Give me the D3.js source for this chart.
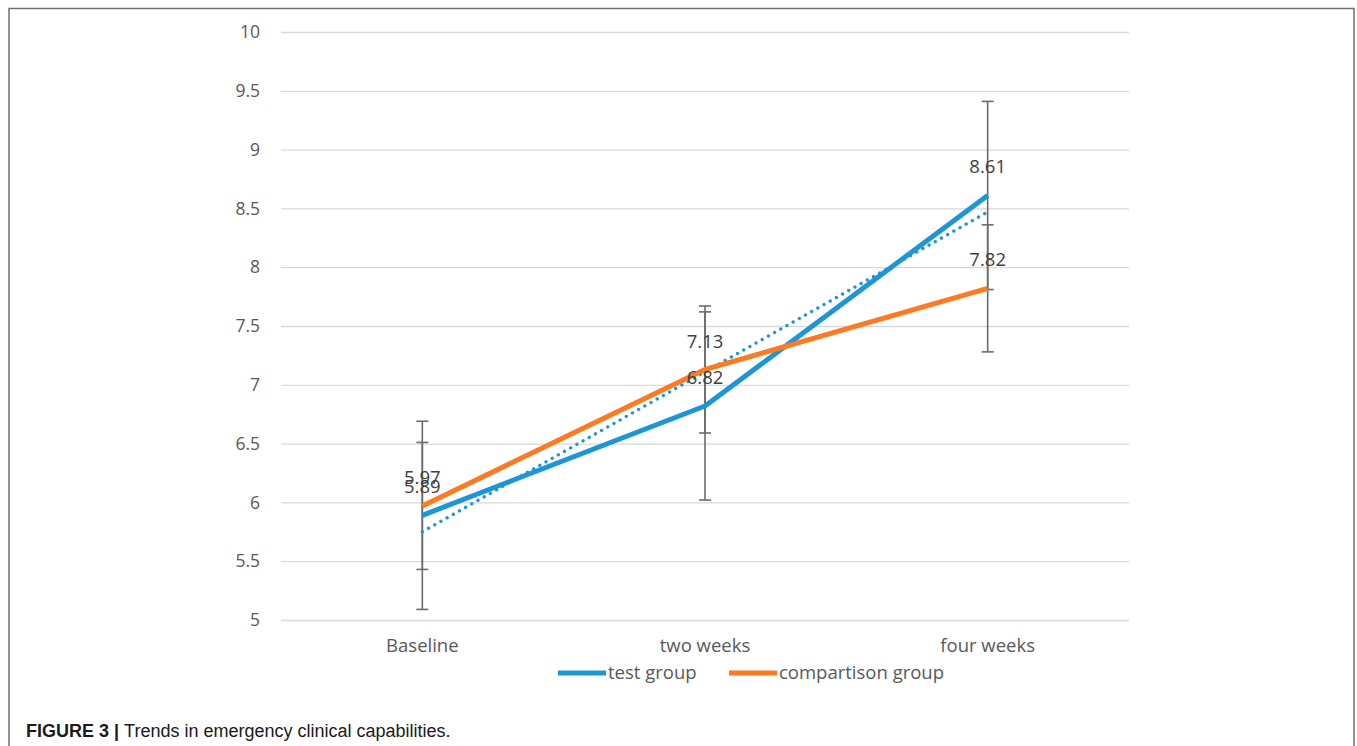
<!DOCTYPE html>
<html>
<head>
<meta charset="utf-8">
<script src="https://cdn.jsdelivr.net/npm/d3@7"></script>
<style>
  html, body { margin: 0; padding: 0; background: #fff; }
  svg { display: block; }
</style>
</head>
<body>
<svg id="chart" width="1357" height="746"></svg>
<script>
const categories = ["Baseline", "two weeks", "four weeks"];
const testValues = [5.89, 6.82, 8.61];
const testErrors = [0.80, 0.80, 0.80];
const compValues = [5.97, 7.13, 7.82];
const compErrors = [0.54, 0.54, 0.54];
const trendValues = [5.75, 8.47]; // linear trend of test group at first/last category
const yTicks = [5, 5.5, 6, 6.5, 7, 7.5, 8, 8.5, 9, 9.5, 10];
const seriesNames = ["test group", "compartison group"];

const svg = d3.select("#chart");
const blue = "#1e96d3", orange = "#fb7a22", errColor = "#6b6b6b";
const font = "'Open Sans', sans-serif";

// frame
svg.append("path")
  .attr("d", "M9,760 L9,8.5 L1354,8.5 L1354,760")
  .attr("fill", "none").attr("stroke", "#707070").attr("stroke-width", 1.5);

const x = d3.scaleBand().domain(categories).range([281, 1129]).padding(0);
const y = d3.scaleLinear().domain([5, 10]).range([620, 32]);
const cx = c => x(c) + x.bandwidth() / 2;

// gridlines
const yAxis = d3.axisLeft(y).tickValues(yTicks).tickSize(-(1129 - 281)).tickPadding(21)
  .tickFormat(d => d3.format("")(d));
const gy = svg.append("g").attr("transform", "translate(281,0)").call(yAxis);
gy.select(".domain").remove();
gy.selectAll(".tick line").attr("stroke", "#d9d9d9").attr("stroke-width", 1.3);
gy.selectAll(".tick text").attr("fill", "#595959").style("font-family", font).style("font-size", "17.5px");

// x axis labels
const xAxis = d3.axisBottom(x).tickSize(0).tickPadding(19);
const gx = svg.append("g").attr("transform", "translate(0,620)").call(xAxis);
gx.select(".domain").remove();
gx.selectAll(".tick text").attr("fill", "#595959").style("font-family", font).style("font-size", "18.5px");

// error bars
function errorBars(values, errs) {
  const g = svg.append("g").attr("stroke", errColor).attr("stroke-width", 1.6).attr("fill", "none");
  categories.forEach((c, i) => {
    const xc = cx(c), hi = y(values[i] + errs[i]), lo = y(values[i] - errs[i]);
    g.append("line").attr("x1", xc).attr("x2", xc).attr("y1", hi).attr("y2", lo);
    g.append("line").attr("x1", xc - 6).attr("x2", xc + 6).attr("y1", hi).attr("y2", hi);
    g.append("line").attr("x1", xc - 6).attr("x2", xc + 6).attr("y1", lo).attr("y2", lo);
  });
}
errorBars(testValues, testErrors);
errorBars(compValues, compErrors);

const line = d3.line().x((d, i) => cx(categories[i])).y(d => y(d));

// trend line (dotted)
svg.append("line")
  .attr("x1", cx(categories[0])).attr("y1", y(trendValues[0]))
  .attr("x2", cx(categories[categories.length - 1])).attr("y2", y(trendValues[1]))
  .attr("stroke", blue).attr("stroke-width", 3.3).attr("stroke-dasharray", "0.1,7")
  .attr("stroke-linecap", "round");

svg.append("path").datum(testValues).attr("d", line)
  .attr("fill", "none").attr("stroke", blue).attr("stroke-width", 5).attr("stroke-linejoin", "round");
svg.append("path").datum(compValues).attr("d", line)
  .attr("fill", "none").attr("stroke", orange).attr("stroke-width", 5).attr("stroke-linejoin", "round");

// data labels
function labels(values) {
  svg.append("g").selectAll("text").data(values).join("text")
    .attr("x", (d, i) => cx(categories[i])).attr("y", d => y(d) - 22)
    .attr("text-anchor", "middle").attr("fill", "#404040")
    .style("font-family", font).style("font-size", "18.5px")
    .text(d => d3.format(".2f")(d));
}
labels(testValues);
labels(compValues);

// legend
const legend = svg.append("g").style("font-family", font).style("font-size", "18.5px");
const legendItems = [
  { name: seriesNames[0], color: blue, x0: 558 },
  { name: seriesNames[1], color: orange, x0: 729 }
];
legendItems.forEach(it => {
  legend.append("line").attr("x1", it.x0).attr("x2", it.x0 + 48).attr("y1", 673).attr("y2", 673)
    .attr("stroke", it.color).attr("stroke-width", 5);
  legend.append("text").attr("x", it.x0 + 50).attr("y", 679).attr("fill", "#595959").text(it.name);
});

// caption
const cap = svg.append("text").attr("x", 26).attr("y", 737)
  .style("font-family", "'Liberation Sans', Arial, sans-serif").style("font-size", "18px").attr("fill", "#1a1a1a");
cap.append("tspan").attr("font-weight", "bold").text("FIGURE 3 | ");
cap.append("tspan").text("Trends in emergency clinical capabilities.");
</script>
</body>
</html>
